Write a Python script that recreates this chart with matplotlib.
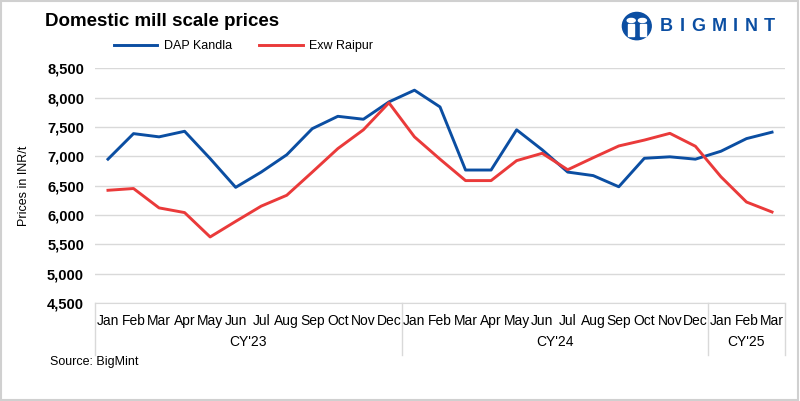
import matplotlib.pyplot as plt
from matplotlib.patches import Circle, Rectangle, Ellipse

months = ['Jan', 'Feb', 'Mar', 'Apr', 'May', 'Jun', 'Jul', 'Aug', 'Sep', 'Oct', 'Nov', 'Dec',
          'Jan', 'Feb', 'Mar', 'Apr', 'May', 'Jun', 'Jul', 'Aug', 'Sep', 'Oct', 'Nov', 'Dec',
          'Jan', 'Feb', 'Mar']
years = ["CY'23", "CY'24", "CY'25"]
year_sizes = [12, 12, 3]

dap_kandla = [6950, 7385, 7330, 7425, 6960, 6470, 6730, 7025, 7470, 7680, 7630, 7925,
              8125, 7840, 6765, 6765, 7450, 7110, 6730, 6670, 6480, 6965, 6990, 6950,
              7085, 7300, 7410]
exw_raipur = [6420, 6450, 6120, 6040, 5625, 5890, 6150, 6335, 6730, 7130, 7450, 7910,
              7330, 6950, 6585, 6585, 6925, 7050, 6770, 6975, 7175, 7275, 7390, 7170,
              6650, 6220, 6050]

BLUE = '#0B4EA2'
RED = '#EA3A3A'
GRID = '#D9D9D9'

plt.rcParams['font.family'] = ['Liberation Sans', 'DejaVu Sans']

fig = plt.figure(figsize=(8, 4.01), dpi=100)
ax = fig.add_axes([0.119, 0.2444, 0.862, 0.5856])

x = list(range(len(months)))
ax.plot(x, dap_kandla, color=BLUE, lw=2.1, label='DAP Kandla', solid_joinstyle='round')
ax.plot(x, exw_raipur, color=RED, lw=2.1, label='Exw Raipur', solid_joinstyle='round')

ax.set_xlim(-0.5, len(months) - 0.5)
ax.set_ylim(4500, 8500)
ax.set_yticks(range(4500, 8501, 500))
ax.set_yticklabels([f'{v:,}' for v in range(4500, 8501, 500)], fontsize=10.5, fontweight='bold')
ax.grid(axis='y', color=GRID, lw=1)
ax.set_axisbelow(True)
for s in ['top', 'right', 'left']:
    ax.spines[s].set_visible(False)
ax.spines['bottom'].set_color(GRID)
ax.tick_params(axis='y', length=0, pad=8)
ax.tick_params(axis='x', length=0, pad=8)
ax.set_xticks(x)
ax.set_xticklabels(months, fontsize=10)
ax.set_ylabel('Prices in INR/t', fontsize=9, labelpad=12)

# year group separators and labels
trans = ax.get_xaxis_transform()
bounds = [-0.5]
for n in year_sizes:
    bounds.append(bounds[-1] + n)
for b in bounds:
    ax.plot([b, b], [0, -0.22], color=GRID, lw=1, transform=trans, clip_on=False)
for i, yr in enumerate(years):
    ax.text((bounds[i] + bounds[i + 1]) / 2, -0.168, yr, transform=trans,
            ha='center', va='center', fontsize=10)

fig.text(0.056, 0.947, 'Domestic mill scale prices', fontsize=13.5, fontweight='heavy',
         ha='left', va='center')
fig.legend(loc='center left', bbox_to_anchor=(0.128, 0.885), ncol=2, frameon=False,
           fontsize=9, handlelength=3.5, columnspacing=2.2, handletextpad=0.5)
fig.text(0.062, 0.097, 'Source: BigMint', fontsize=9, ha='left', va='center')

# logo
lx, ly = 0.796, 0.935
fig.patches.append(Ellipse((lx, ly), 0.036, 0.068, transform=fig.transFigure, color=BLUE))
fig.patches.append(Circle((lx - 0.007, ly + 0.014), 0.005, transform=fig.transFigure, color='white'))
fig.patches.append(Circle((lx + 0.007, ly + 0.014), 0.005, transform=fig.transFigure, color='white'))
fig.patches.append(Rectangle((lx - 0.011, ly - 0.026), 0.007, 0.03, transform=fig.transFigure, color='white'))
fig.patches.append(Rectangle((lx + 0.004, ly - 0.026), 0.007, 0.03, transform=fig.transFigure, color='white'))

# letter-spaced wordmark: advance by measured glyph width plus a fixed gap
renderer = fig.canvas.get_renderer()
cx = 660
for ch in 'BIGMINT':
    t = fig.text(cx / 800, ly, ch, color=BLUE, fontsize=13, fontweight='heavy',
                 ha='left', va='center')
    cx += t.get_window_extent(renderer).width + 6.5

fig.patches.append(Rectangle((0.001, 0.002), 0.997, 0.995, transform=fig.transFigure,
                             fill=False, edgecolor='#D0D0D0', lw=1.5))

fig.savefig('out.png', dpi=100)
